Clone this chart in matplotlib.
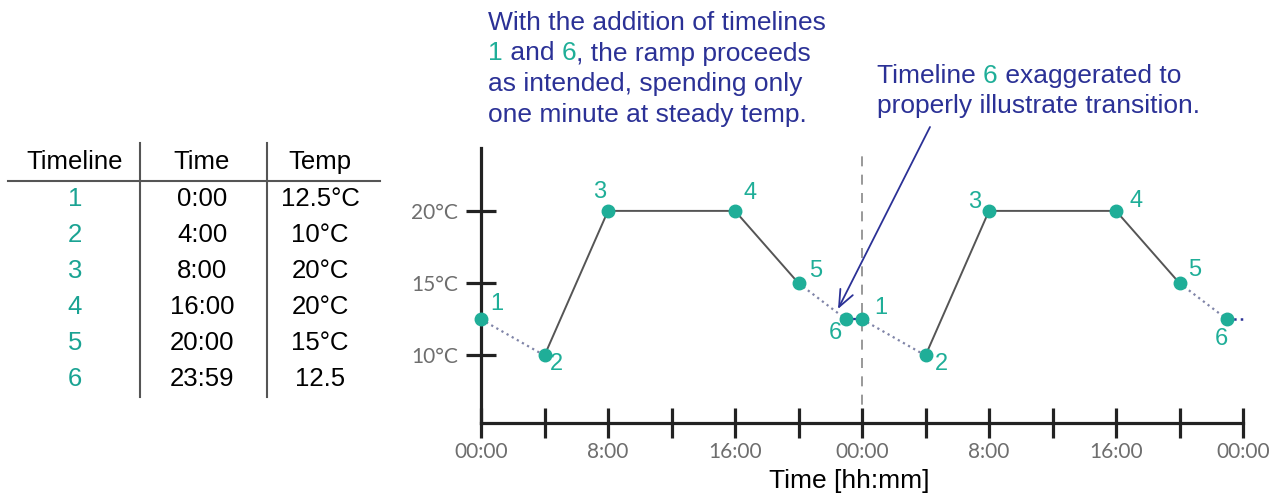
import matplotlib
matplotlib.use('Agg')
import matplotlib.pyplot as plt

# table values (as written in the reference table)
timelines = ['1', '2', '3', '4', '5', '6']
table_times = ['0:00', '4:00', '8:00', '16:00', '20:00', '23:59']
table_temps = ['12.5°C', '10°C', '20°C', '20°C', '15°C', '12.5']

# plotted ramp, one day (timeline 6 drawn at 23:00, exaggerated)
ramp_hours = [0, 4, 8, 16, 20, 23]
ramp_temps = [12.5, 10, 20, 20, 15, 12.5]
day_starts = [0, 24]

x_ticks = [0, 4, 8, 12, 16, 20, 24, 28, 32, 36, 40, 44, 48]
x_tick_labels = ['00:00', '', '8:00', '', '16:00', '', '00:00', '', '8:00', '', '16:00', '', '00:00']
y_ticks = [10, 15, 20]
y_tick_labels = ['10°C', '15°C', '20°C']

TEAL = '#1fae98'
TEAL_TXT = '#1aa393'
NAVY = '#2b3196'
DOT = '#8085a8'
W, H = 1285, 498

# point label offsets in pixels (dx, dy up)
label_offsets = [
    [(16, 15), (12, -9), (-8, 19), (15, 18), (17, 12), (-11, -14)],
    [(19, 11), (16, -9), (-14, 9), (20, 10), (15, 13), (-6, -20)],
]

fig = plt.figure(figsize=(W / 100, H / 100), dpi=100)


def fx(px):
    return px / W


def fy(py):
    return 1 - py / H


ax = fig.add_axes([fx(481), fy(423), fx(1243) - fx(481), fy(148) - fy(423)])
ax.set_xlim(0, 48)
ax.set_ylim(5.33, 24.35)

for sp in ['top', 'right']:
    ax.spines[sp].set_visible(False)
for sp in ['left', 'bottom']:
    ax.spines[sp].set_linewidth(2.3)
    ax.spines[sp].set_color('#222222')

ax.set_xticks(x_ticks)
ax.set_xticklabels(x_tick_labels)
ax.set_yticks(y_ticks)
ax.set_yticklabels(y_tick_labels)
ax.tick_params(direction='inout', length=21, width=2.3, color='#222222',
               labelcolor='#6e6e6e', labelsize=15)
ax.tick_params(axis='x', pad=3)
ax.tick_params(axis='y', pad=6)
for lab in ax.get_xticklabels() + ax.get_yticklabels():
    lab.set_family(['Lato', 'DejaVu Sans'])

# day boundary
ax.axvline(24, ymax=0.97, color='#888888', lw=1.2, ls=(0, (6, 5)), zorder=1)

for d, start in enumerate(day_starts):
    xs = [h + start for h in ramp_hours]
    ys = ramp_temps
    # dotted transitions
    ax.plot(xs[0:2], ys[0:2], ls=':', color=DOT, lw=1.6, zorder=2, clip_on=False)
    ax.plot(xs[4:6], ys[4:6], ls=':', color=DOT, lw=1.6, zorder=2, clip_on=False)
    # solid ramp
    ax.plot(xs[1:5], ys[1:5], ls='-', color='#555555', lw=1.4, zorder=2)
    ax.plot(xs, ys, 'o', color=TEAL, ms=9, zorder=3, clip_on=False)
    for i, (x, y) in enumerate(zip(xs, ys)):
        dx, dy = label_offsets[d][i]
        ax.annotate(timelines[i], (x, y), xytext=(dx * 0.72, dy * 0.72),
                    textcoords='offset points', ha='center', va='center',
                    color=TEAL, fontsize=17, family='Liberation Sans')

# link 6 -> 1 and tail after last 6
ax.plot([ramp_hours[5], day_starts[1]], [ramp_temps[5], ramp_temps[0]],
        color=NAVY, lw=1.6, zorder=2)
ax.plot([ramp_hours[5] + day_starts[1], 48], [ramp_temps[5], ramp_temps[0]],
        ls=':', color=NAVY, lw=1.8, zorder=2, clip_on=False)

fig.text(fx(849), fy(481), 'Time [hh:mm]', ha='center', va='center',
         fontsize=19, family='Liberation Sans', color='black')

# table
tfont = dict(fontsize=18.5, family='Liberation Sans', ha='center', va='center')
col_x = [75, 202, 320]
fig.text(fx(col_x[0]), fy(162), 'Timeline', color='black', **tfont)
fig.text(fx(col_x[1]), fy(162), 'Time', color='black', **tfont)
fig.text(fx(col_x[2]), fy(162), 'Temp', color='black', **tfont)
for i in range(len(timelines)):
    yy = fy(199 + 36 * i)
    fig.text(fx(col_x[0]), yy, timelines[i], color=TEAL_TXT, **tfont)
    fig.text(fx(col_x[1]), yy, table_times[i], color='black', **tfont)
    fig.text(fx(col_x[2]), yy, table_temps[i], color='black', **tfont)
fig.add_artist(plt.Line2D([fx(8), fx(380)], [fy(180.5), fy(180.5)], color='#555555', lw=1.5))
for vx in [139.5, 266.5]:
    fig.add_artist(plt.Line2D([fx(vx), fx(vx)], [fy(143), fy(397)], color='#555555', lw=1.5))

# notes
nfont = dict(fontsize=19, family='Liberation Sans')


def line_pieces(pieces, x, y):
    prev = None
    for s, c in pieces:
        if prev is None:
            prev = fig.text(x, y, s, color=c, ha='left', va='baseline', **nfont)
        else:
            prev = ax.annotate(s, xy=(1, 0), xycoords=prev, xytext=(0, 0),
                               textcoords='offset points', ha='left', va='bottom',
                               color=c, annotation_clip=False, **nfont)


note1 = [
    [('With the addition of timelines', NAVY)],
    [('1', TEAL), (' and ', NAVY), ('6', TEAL), (', the ramp proceeds', NAVY)],
    [('as intended, spending only', NAVY)],
    [('one minute at steady temp.', NAVY)],
]
for i, pcs in enumerate(note1):
    line_pieces(pcs, fx(488), fy(30 + 30.5 * i))

note2 = [
    [('Timeline ', NAVY), ('6', TEAL), (' exaggerated to', NAVY)],
    [('properly illustrate transition.', NAVY)],
]
for i, pcs in enumerate(note2):
    line_pieces(pcs, fx(877), fy(83 + 30.5 * i))

fig.add_artist(matplotlib.patches.FancyArrowPatch(
    (fx(930), fy(127)), (fx(838), fy(309)), transform=fig.transFigure,
    arrowstyle='->,head_length=12,head_width=5', color=NAVY, lw=1.3,
    shrinkA=0, shrinkB=0, mutation_scale=1))

fig.savefig('out.png', dpi=100)
